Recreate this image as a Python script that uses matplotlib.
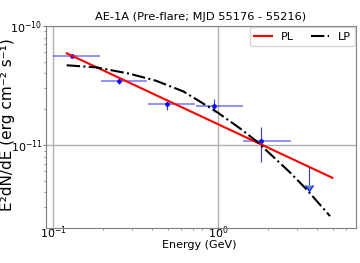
import numpy as np
import matplotlib
matplotlib.use('Agg')
import matplotlib.pyplot as plt

plt.rc('font', family='DejaVu Sans', size=8)
plt.rc('mathtext', fontset='dejavusans')

# flux points (GeV, erg cm^-2 s^-1)
energy  = [0.130, 0.252, 0.489, 0.95, 1.82]
e_lo    = [0.100, 0.195, 0.377, 0.736, 1.42]
e_hi    = [0.193, 0.373, 0.72, 1.42, 2.76]
flux    = [5.62e-11, 3.47e-11, 2.21e-11, 2.13e-11, 1.08e-11]
err_dn  = [0.15e-11, 0.23e-11, 0.24e-11, 0.23e-11, 0.36e-11]
err_up  = [0.15e-11, 0.17e-11, 0.10e-11, 0.29e-11, 0.35e-11]

# upper limit
ul_energy = [3.56]
ul_flux   = [6.58e-12]
ul_err    = [1.96e-12]

# model curves
pl_energy = [0.121, 4.93]
pl_flux   = [5.9e-11, 5.31e-12]
lp_energy = [0.121, 0.182, 0.290, 0.421, 0.617, 0.982, 1.36, 1.72, 2.73, 3.45, 4.77]
lp_flux   = [4.68e-11, 4.50e-11, 3.98e-11, 3.47e-11, 2.82e-11, 1.90e-11,
             1.38e-11, 1.07e-11, 5.89e-12, 4.22e-12, 2.53e-12]

energy = np.array(energy)
xerr = [energy - np.array(e_lo), np.array(e_hi) - energy]

fig = plt.figure(figsize=(3.6, 2.63), dpi=100)
ax = fig.add_axes([0.128, 0.133, 0.861, 0.768])

ax.plot(pl_energy, pl_flux, color='red', lw=1.5, label='PL', zorder=3)
ax.plot(lp_energy, lp_flux, color='black', ls='-.', lw=1.5, label='LP', zorder=3)

ax.errorbar(energy, flux, xerr=xerr, fmt='none', ecolor='blue', alpha=0.5, elinewidth=1.2, zorder=2)
ax.errorbar(energy, flux, yerr=[err_dn, err_up], fmt='o', ms=2.5, color='blue',
            ecolor='blue', alpha=0.8, elinewidth=0.8, zorder=2)
ax.errorbar(ul_energy, ul_flux, yerr=ul_err, uplims=True, fmt='none', ecolor='blue',
            alpha=0.8, elinewidth=0.8, capsize=0, zorder=2)

ax.set_xscale('log')
ax.set_yscale('log')
ax.set_xlim(0.0907, 6.86)
ax.set_ylim(2.01e-12, 1.0e-10)
ax.grid(True, which='major', color='#b0b0b0', lw=1.0)
for s in ax.spines.values():
    s.set_color('#808080')
ax.tick_params(which='both', colors='#808080', labelcolor='black', labelsize=8)
ax.tick_params(which='major', length=2.5)
ax.tick_params(which='minor', length=1.5)
ax.tick_params(axis='x', pad=-5)
ax.tick_params(axis='y', pad=0)

ax.set_xlabel('Energy (GeV)', fontsize=8)
ax.xaxis.set_label_coords(0.494, -0.058)
ax.set_ylabel('E²dN/dE (erg cm⁻² s⁻¹)', fontsize=11)
ax.yaxis.set_label_coords(-0.1, 0.51)
ax.set_title('AE-1A (Pre-flare; MJD 55176 - 55216)', fontsize=8.2, pad=4)
ax.legend(loc='upper right', ncol=2, fontsize=8, handlelength=1.6,
          columnspacing=1.5, borderaxespad=0.1)

plt.savefig('out.png', dpi=100)
